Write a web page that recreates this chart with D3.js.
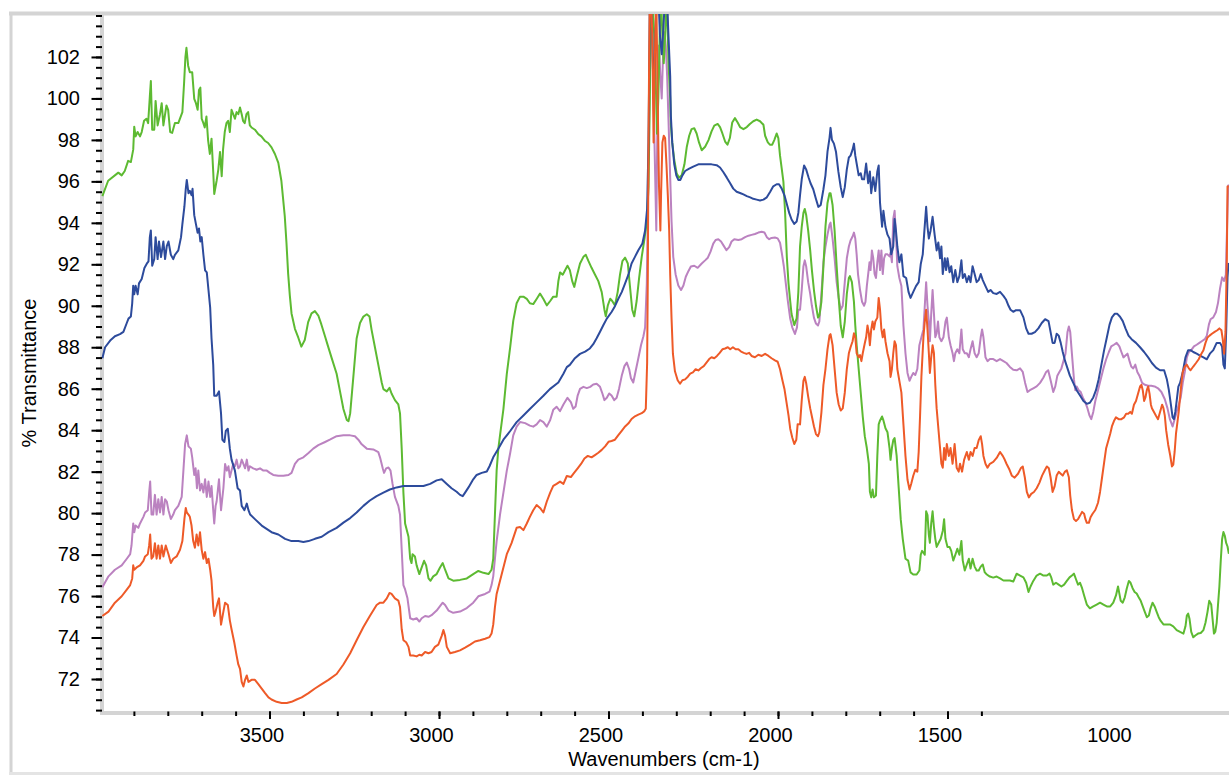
<!DOCTYPE html>
<html><head><meta charset="utf-8">
<script src="https://cdn.jsdelivr.net/npm/d3@7"></script>
<style>html,body{margin:0;padding:0;background:#fff;} svg{display:block;font-family:"Liberation Sans",Arial,Helvetica,sans-serif;}</style>
</head><body><svg id="chart" width="1229" height="775"></svg>
<script>
// ---- data: [wavenumber (cm-1), % transmittance] ----
const greenSpectrum = [[3993,95.29],[3976,96.03],[3946,96.42],[3936,96.29],[3927,96.50],[3917,96.99],[3909,96.93],[3902,97.53],[3899,98.64],[3895,98.17],[3889,98.38],[3882,98.17],[3877,98.38],[3870,98.92],[3863,99.02],[3858,98.81],[3853,100.09],[3850,100.84],[3846,98.49],[3840,98.49],[3836,99.88],[3830,98.70],[3823,99.24],[3818,99.77],[3813,98.70],[3809,99.13],[3804,99.66],[3799,99.45],[3793,98.38],[3787,98.34],[3779,98.81],[3769,98.81],[3757,99.34],[3752,100.73],[3748,102.01],[3745,102.44],[3740,101.58],[3735,101.26],[3728,101.26],[3722,99.98],[3717,99.77],[3712,99.45],[3708,100.41],[3704,100.52],[3700,99.02],[3695,98.81],[3691,98.60],[3686,99.13],[3681,97.96],[3676,97.32],[3671,98.06],[3666,96.46],[3663,95.39],[3656,96.03],[3651,96.57],[3646,97.42],[3641,96.25],[3637,97.53],[3632,98.38],[3627,98.81],[3622,98.92],[3617,98.38],[3612,99.45],[3607,99.24],[3602,99.02],[3597,99.34],[3592,99.24],[3587,99.56],[3582,99.24],[3578,98.92],[3573,98.81],[3568,99.24],[3563,99.34],[3558,98.70],[3553,98.60],[3543,98.49],[3533,98.28],[3524,98.17],[3514,97.96],[3504,97.85],[3494,97.64],[3484,97.32],[3474,96.89],[3465,96.03],[3460,95.18],[3455,94.33],[3450,93.05],[3445,91.55],[3440,90.49],[3435,89.63],[3425,88.89],[3415,88.46],[3406,88.03],[3396,88.35],[3386,89.21],[3376,89.63],[3366,89.74],[3356,89.53],[3347,89.10],[3337,88.57],[3327,88.03],[3317,87.50],
[3302,86.72],[3292,85.87],[3282,85.02],[3272,84.49],[3267,84.43],[3262,84.81],[3253,86.51],[3243,88.42],[3233,89.17],[3223,89.48],[3213,89.59],[3205,89.48],[3199,88.85],[3189,88.00],[3179,87.15],[3169,86.30],[3164,85.98],[3154,85.87],[3146,86.04],[3140,85.77],[3130,85.45],[3120,85.24],[3115,84.81],[3110,83.11],[3105,80.99],[3100,79.50],[3090,78.86],[3085,77.80],[3081,77.59],[3078,78.02],[3071,77.91],[3066,77.48],[3058,77.06],[3051,77.38],[3044,77.70],[3038,77.48],[3031,76.85],[3025,76.74],[3017,76.95],[3007,77.06],[2997,77.38],[2989,77.59],[2982,77.27],[2972,76.85],[2958,76.74],[2938,76.78],[2918,76.85],[2899,77.06],[2884,77.21],[2869,77.12],[2854,77.06],[2845,77.27],[2840,77.80],[2835,79.93],[2830,82.05],[2825,83.11],[2820,83.75],[2810,85.02],[2800,86.72],[2790,88.00],[2781,89.27],[2771,90.12],[2761,90.44],[2751,90.44],[2741,90.33],[2732,90.12],[2722,90.08],[2712,90.33],[2702,90.59],[2692,90.33],[2682,90.02],[2672,90.23],[2663,90.44],[2653,90.44],[2648,91.18],[2643,91.61],[2635,91.50],[2628,91.71],[2621,91.93],
[2614,91.72],[2607,91.19],[2601,90.91],[2594,91.40],[2584,92.04],[2574,92.36],[2567,92.46],[2559,92.15],[2550,91.83],[2540,91.51],[2530,91.19],[2520,90.66],[2512,89.81],[2508,89.49],[2502,90.02],[2495,90.34],[2489,90.23],[2481,90.02],[2473,90.66],[2466,91.51],[2459,92.15],[2451,92.32],[2443,92.04],[2437,90.98],[2430,89.81],[2424,89.49],[2417,90.23],[2410,91.30],[2402,92.36],[2394,93.21],[2387,94.06],[2382,95.76],[2378,100.00],[2375,105],[2371,105],[2365,103],[2361,101.07],[2357,98.30],[2353,100.00],[2349,103],[2345,105],[2341,103],[2337,101.70],[2333,103],[2328,105],[2323,101.70],[2318,100.00],[2316,98.73],[2312,97.88],[2306,97.03],[2299,96.39],[2292,96.18],[2284,96.29],[2276,96.82],[2269,97.67],[2262,98.20],[2255,98.52],[2247,98.56],[2240,98.31],[2233,97.88],[2225,97.50],[2215,97.67],[2205,97.99],[2196,98.41],[2188,98.69],[2178,98.77],[2171,98.62],[2164,98.31],[2156,97.92],[2149,97.77],[2142,98.09],[2135,98.84],[2127,99.05],[2119,98.84],[2112,98.62],[2102,98.52],[2092,98.62],[2083,98.77],[2073,98.90],[2063,98.98],[2053,98.90],[2043,98.73],[2038,98.20],[2030,97.88],[2024,97.77],[2017,97.77],[2011,97.99],[2004,98.31],[1999,98.09],[1994,97.24],[1989,96.61],[1984,95.97],[1979,94.48],[1974,92.36],[1969,91.08],[1964,90.23],[1960,89.60],[1952,89.07],[1945,89.39],[1940,90.66],
[1935,92.86],[1930,93.81],[1925,94.48],[1921,94.67],[1917,94.39],[1911,93.62],[1905,92.67],[1900,91.72],[1894,90.76],[1888,90.00],[1882,89.43],[1878,89.52],[1872,90.19],[1866,91.91],[1860,93.81],[1854,94.96],[1848,95.43],[1845,95.43],[1839,94.86],[1833,93.62],[1827,91.91],[1821,90.38],[1815,89.05],[1809,88.48],[1803,89.24],[1797,90.57],[1791,91.34],[1788,91.43],[1782,91.14],[1776,90.19],[1772,89.05],[1768,88.10],[1762,86.95],[1756,85.81],[1750,84.66],[1744,83.71],[1738,83.14],[1732,82.38],[1729,81.04],[1725,80.76],[1721,81.14],[1717,80.76],[1711,80.85],[1707,82.76],[1703,84.28],[1699,84.47],[1693,84.66],[1689,84.47],[1683,84.09],[1677,83.90],[1671,83.14],[1668,82.57],[1664,83.14],[1660,83.52],[1656,83.62],[1650,82.76],[1644,81.23],[1638,79.71],[1632,78.76],[1624,77.80],[1616,77.71],[1609,77.14],[1601,77.04],[1591,77.04],[1583,77.23],[1579,77.99],[1575,78.18],[1571,78.09],[1567,77.99],[1563,80.09],[1559,79.90],[1555,78.95],[1552,78.57],[1548,79.52],[1544,80.09],[1540,79.33],[1536,78.76],[1532,78.37],[1526,78.57],[1520,78.76],[1514,79.14],[1510,79.71],[1506,78.76],[1500,78.37],[1494,78.37],[1489,78.18],[1483,77.71],[1477,77.99],[1471,78.28],[1465,77.99],[1459,78.66],[1455,77.71],[1449,77.23],[1443,77.52],[1437,77.80],[1432,77.33],[1426,77.80],[1420,77.42],[1414,77.23],[1408,77.23],[1402,77.42],[1396,77.52],[1390,77.14],[1384,77.04],[1375,76.94],[1365,76.89],[1355,76.94],[1345,76.85],[1335,76.75],[1326,76.75],[1316,76.75],[1306,76.70],
[1296,77.08],[1286,76.99],[1276,76.90],[1268,76.64],[1261,76.20],[1255,76.46],[1247,76.73],[1237,76.99],[1227,77.08],[1217,76.99],[1207,76.99],[1199,77.08],[1194,76.90],[1188,76.55],[1180,76.64],[1172,76.55],[1164,76.46],[1156,76.55],[1148,76.73],[1140,76.90],[1133,76.99],[1127,77.08],[1121,76.81],[1115,76.55],[1109,76.64],[1103,76.38],[1097,76.03],[1089,75.59],[1080,75.41],[1070,75.50],[1060,75.59],[1050,75.68],[1040,75.59],[1030,75.50],[1020,75.50],[1011,75.68],[1003,76.03],[997,76.46],[993,76.12],[989,75.77],[983,75.68],[977,75.94],[971,76.38],[965,76.73],[960,76.64],[954,76.38],[948,76.20],[942,76.12],[936,75.94],[930,75.77],[924,75.50],[918,75.24],[912,74.98],[906,75.06],[901,75.41],[895,75.68],[889,75.50],[883,75.24],[877,74.98],[871,74.80],[863,74.63],[853,74.63],[844,74.63],[834,74.54],[824,74.36],[814,74.27],[804,74.19],[798,74.54],[794,75.06],[790,75.15],[786,74.89],[781,74.27],[775,74.01],[769,74.10],[761,74.19],[753,74.22],[745,74.36],[739,74.71],[733,75.24],[728,75.77],[722,75.59],[718,74.89],[714,74.19],[710,74.28],[706,74.71],[702,75.59],[698,76.46],[694,77.69],[690,78.74],[686,79.09],[682,78.91],[678,78.56],[674,78.39],[670,78.04]];

const blueSpectrum = [[3993,87.47],[3985,88.00],[3970,88.32],[3956,88.53],[3941,88.63],[3931,88.74],[3921,89.17],[3916,89.38],[3909,89.48],[3905,90.12],[3902,90.97],[3899,90.55],[3895,90.97],[3889,90.55],[3885,91.08],[3877,91.29],[3869,91.82],[3862,92.03],[3857,92.14],[3853,93.31],[3850,93.63],[3846,91.93],[3840,92.25],[3836,93.31],[3830,92.25],[3826,93.10],[3820,92.35],[3813,93.10],[3808,92.25],[3803,92.88],[3798,93.10],[3791,92.46],[3784,92.25],[3779,92.46],[3769,92.67],[3761,93.31],[3757,93.94],[3751,94.79],[3747,95.64],[3744,96.07],[3739,95.43],[3735,95.54],[3730,95.33],[3727,95.64],[3722,94.37],[3717,93.94],[3712,93.52],[3708,93.73],[3704,93.10],[3700,93.31],[3695,92.46],[3690,91.71],[3685,91.61],[3680,90.76],[3675,89.91],[3671,88.42],[3666,87.15],[3663,85.66],[3656,85.66],[3649,85.87],[3643,84.81],[3639,83.54],[3633,83.43],[3629,83.96],[3623,84.07],[3617,83.11],[3612,82.58],[3602,82.05],[3594,81.20],[3587,81.09],[3582,80.35],[3574,80.14],[3567,80.46],[3562,80.14],[3557,79.93],[3543,79.71],[3523,79.40],[3513,79.29],[3494,79.08],[3474,78.97],[3454,78.76],[3435,78.65],[3415,78.65],[3400,78.61],[3385,78.65],[3366,78.76],[3346,78.86],[3326,79.08],
[3302,79.29],[3282,79.54],[3262,79.76],[3243,80.03],[3223,80.35],[3204,80.61],[3184,80.82],[3164,80.99],[3145,81.14],[3125,81.24],[3105,81.31],[3085,81.31],[3066,81.31],[3046,81.31],[3026,81.41],[3007,81.58],[2992,81.63],[2977,81.41],[2963,81.20],[2948,81.03],[2938,80.88],[2930,80.82],[2923,80.99],[2913,81.24],[2899,81.63],[2889,81.84],[2874,81.94],[2859,82.01],[2851,82.26],[2840,82.69],[2825,83.11],[2810,83.54],[2790,83.96],[2771,84.39],[2751,84.71],[2732,85.02],[2712,85.34],[2692,85.66],[2673,85.98],[2648,86.30],[2633,86.72],[2623,87.04],
[2614,87.15],[2599,87.47],[2584,87.68],[2569,87.79],[2555,87.94],[2545,88.15],[2535,88.43],[2525,88.75],[2515,89.07],[2505,89.38],[2491,89.70],[2481,89.98],[2471,90.34],[2461,90.66],[2451,91.08],[2441,91.51],[2432,92.04],[2422,92.36],[2412,92.68],[2400,93.00],[2392,93.63],[2386,94.69],[2382,97.88],[2380,101.07],[2378,105],[2375,105],[2371,103.19],[2367,100.00],[2363,102.13],[2358,105],[2353,105],[2348,102.98],[2343,102.13],[2338,103.40],[2333,105],[2328,105],[2323,102.98],[2318,101.07],[2316,99.15],[2312,97.88],[2306,96.82],[2300,96.29],[2294,96.07],[2288,96.07],[2282,96.29],[2274,96.50],[2262,96.61],[2250,96.71],[2235,96.82],[2215,96.82],[2196,96.82],[2181,96.78],[2171,96.67],[2161,96.44],[2151,96.18],[2142,95.93],[2132,95.65],[2122,95.50],[2112,95.44],[2102,95.37],[2092,95.29],[2082,95.23],[2073,95.16],[2063,95.12],[2053,95.08],[2043,95.12],[2033,95.23],[2023,95.50],[2014,95.76],[2004,95.86],[1997,95.86],[1989,95.65],[1981,95.33],[1974,94.91],[1967,94.48],[1960,94.16],[1952,93.95],[1945,94.06],[1940,94.48],
[1935,95.34],[1930,96.10],[1923,96.77],[1917,96.58],[1910,96.20],[1904,95.91],[1896,95.62],[1888,95.15],[1881,94.77],[1874,94.86],[1866,95.62],[1860,96.29],[1854,97.43],[1848,98.10],[1845,98.58],[1841,98.01],[1835,97.82],[1829,97.43],[1822,96.48],[1815,95.72],[1809,95.24],[1803,95.72],[1797,96.58],[1791,97.15],[1786,97.24],[1780,97.53],[1776,97.82],[1772,97.24],[1768,96.86],[1762,96.29],[1756,96.39],[1752,96.10],[1746,96.10],[1740,96.86],[1734,95.91],[1729,96.48],[1725,95.43],[1719,96.20],[1713,95.53],[1707,96.48],[1703,96.77],[1699,94.96],[1693,93.81],[1689,94.58],[1683,93.81],[1677,93.43],[1671,93.24],[1666,92.48],[1660,92.86],[1656,94.19],[1652,93.62],[1648,92.86],[1642,92.10],[1636,92.48],[1630,91.43],[1622,91.34],[1615,90.67],[1609,90.38],[1601,90.67],[1593,90.95],[1585,91.14],[1579,92.00],[1573,92.48],[1569,93.43],[1563,94.77],[1559,93.81],[1555,93.24],[1550,93.62],[1544,94.29],[1538,93.43],[1532,92.67],[1527,93.05],[1522,92.29],[1518,92.86],[1514,91.53],[1508,92.29],[1504,91.72],[1500,92.29],[1494,91.62],[1489,91.91],[1483,91.14],[1477,91.72],[1471,91.14],[1465,91.43],[1459,92.19],[1455,91.34],[1449,91.53],[1443,91.14],[1437,91.43],[1432,91.14],[1426,91.91],[1420,91.53],[1414,91.14],[1408,91.24],[1402,91.53],[1396,91.24],[1388,90.95],[1380,90.67],[1373,90.76],[1365,90.61],[1355,90.57],[1345,90.67],[1335,90.48],[1327,90.29],[1320,90.00],[1314,89.81],[1306,89.71],
[1298,89.79],[1286,89.79],[1276,89.44],[1268,88.91],[1261,88.65],[1252,88.65],[1242,88.73],[1232,88.91],[1222,89.17],[1212,89.35],[1202,89.26],[1196,88.74],[1190,88.21],[1184,88.21],[1178,88.65],[1172,88.56],[1166,88.21],[1160,87.77],[1153,87.33],[1146,86.98],[1139,86.63],[1129,86.28],[1119,85.93],[1109,85.67],[1099,85.41],[1089,85.27],[1080,85.32],[1070,85.58],[1062,85.93],[1054,86.46],[1046,87.16],[1038,87.86],[1030,88.47],[1022,89.09],[1015,89.44],[1007,89.61],[999,89.61],[991,89.47],[983,89.26],[975,88.91],[966,88.56],[957,88.39],[944,88.21],[932,88.00],[920,87.77],[908,87.51],[897,87.24],[885,87.02],[873,86.89],[861,86.89],[853,86.46],[847,85.93],[841,85.23],[836,84.62],[832,84.53],[828,84.88],[824,85.41],[819,86.10],[814,86.28],[806,86.81],[798,87.51],[790,87.86],[783,87.86],[775,87.77],[765,87.69],[755,87.60],[745,87.51],[735,87.42],[726,87.69],[716,87.86],[706,88.21],[696,88.21],[690,88.03],[686,87.16],[682,86.98],[678,88.74],[674,91.37],[671,92.07]];

const purpleSpectrum = [[3993,76.42],[3975,76.95],[3956,77.27],[3936,77.48],[3921,77.80],[3911,78.02],[3907,78.44],[3902,79.50],[3899,79.08],[3895,79.40],[3887,79.29],[3882,79.50],[3872,79.82],[3867,80.03],[3859,80.14],[3855,80.99],[3852,81.52],[3848,79.93],[3843,79.93],[3838,80.88],[3833,79.93],[3828,80.67],[3823,80.03],[3818,80.78],[3813,79.93],[3808,80.67],[3803,80.56],[3798,80.14],[3791,79.72],[3784,79.93],[3779,80.14],[3769,80.35],[3759,80.78],[3754,82.05],[3749,83.32],[3744,83.75],[3739,83.22],[3732,83.11],[3728,82.69],[3722,81.84],[3718,82.16],[3714,81.20],[3710,82.05],[3705,81.09],[3700,81.41],[3695,80.99],[3690,81.63],[3685,80.78],[3680,81.52],[3675,80.78],[3671,81.31],[3666,80.14],[3663,79.50],[3659,80.35],[3656,80.56],[3649,81.63],[3643,80.14],[3636,81.20],[3631,82.37],[3626,82.05],[3621,82.26],[3617,81.73],[3612,82.05],[3607,82.37],[3602,82.26],[3597,82.58],[3592,82.16],[3587,82.26],[3582,82.58],[3577,82.37],[3572,82.16],[3567,82.58],[3562,82.05],[3558,82.26],[3548,82.16],[3538,82.09],[3528,82.16],[3518,82.05],[3508,82.05],[3499,81.94],[3489,81.84],[3474,81.80],[3459,81.80],[3444,81.84],[3435,81.94],[3425,82.37],[3415,82.58],[3400,82.69],[3385,82.90],[3371,83.11],[3356,83.28],[3336,83.43],[3322,83.54],
[3302,83.71],[3282,83.75],[3262,83.75],[3248,83.71],[3238,83.54],[3228,83.32],[3213,83.11],[3194,83.07],[3179,82.94],[3174,82.69],[3166,82.16],[3162,81.94],[3156,82.16],[3149,82.20],[3143,82.05],[3137,81.41],[3130,80.78],[3120,80.35],[3115,79.93],[3110,78.23],[3105,76.53],[3100,76.32],[3093,75.89],[3085,74.93],[3076,74.87],[3066,74.93],[3058,74.77],[3051,74.93],[3041,75.04],[3031,75.00],[3022,75.08],[3007,75.30],[2997,75.51],[2989,75.68],[2982,75.57],[2972,75.30],[2958,75.19],[2938,75.25],[2918,75.42],[2899,75.68],[2884,75.99],[2864,76.10],[2851,76.21],[2845,76.53],[2840,76.95],[2835,77.80],[2830,78.65],[2820,79.93],[2810,80.99],[2800,82.05],[2790,82.90],[2781,83.75],[2771,84.17],[2761,84.39],[2746,84.34],[2732,84.22],[2722,84.17],[2712,84.28],[2702,84.49],[2692,84.39],[2682,84.17],[2672,84.49],[2663,84.98],[2653,85.13],[2643,84.92],[2633,85.24],[2621,85.56],
[2611,85.35],[2604,85.03],[2597,85.14],[2591,85.67],[2584,85.99],[2574,86.09],[2564,86.03],[2554,86.09],[2545,86.20],[2535,86.24],[2525,86.09],[2518,85.77],[2512,85.45],[2505,85.56],[2498,85.77],[2491,85.67],[2483,85.45],[2476,85.56],[2469,85.99],[2461,86.62],[2453,87.09],[2446,87.26],[2439,86.94],[2434,86.52],[2427,86.30],[2420,86.84],[2412,87.47],[2404,88.11],[2397,88.53],[2392,88.96],[2387,91.08],[2382,96.82],[2378,102.13],[2375,103.61],[2371,102.98],[2367,100.00],[2363,96.82],[2359,93.63],[2355,100.00],[2351,102.55],[2347,101.07],[2343,100.00],[2339,102.13],[2335,103.19],[2331,102.55],[2327,101.07],[2323,98.94],[2318,96.18],[2314,94.06],[2309,92.36],[2302,91.51],[2294,90.98],[2286,90.76],[2279,90.98],[2272,91.40],[2264,91.68],[2257,91.89],[2247,91.93],[2237,91.83],[2225,92.04],[2215,92.19],[2207,92.32],[2199,92.61],[2191,93.00],[2184,93.17],[2176,93.21],[2168,93.10],[2160,92.89],[2152,92.68],[2144,92.83],[2137,93.10],[2129,93.21],[2117,93.17],[2107,93.21],[2097,93.31],[2087,93.38],[2078,93.42],[2068,93.46],[2058,93.53],[2048,93.57],[2040,93.53],[2033,93.31],[2026,93.21],[2019,93.27],[2009,93.29],[2001,93.25],[1994,93.04],[1989,92.57],[1983,91.93],[1977,91.08],[1971,90.23],[1964,89.38],[1958,88.96],[1950,88.64],[1944,88.96],[1940,89.81],
[1935,89.81],[1930,90.76],[1925,91.91],[1921,92.19],[1917,91.91],[1911,91.14],[1905,90.57],[1900,90.00],[1894,89.43],[1888,89.14],[1882,89.05],[1878,89.24],[1872,90.57],[1866,92.10],[1860,92.86],[1854,93.43],[1848,93.91],[1845,94.01],[1839,93.24],[1833,92.29],[1827,91.14],[1821,90.38],[1815,89.81],[1809,90.00],[1803,91.14],[1797,92.29],[1791,92.86],[1786,93.15],[1780,93.34],[1776,93.53],[1772,93.24],[1768,92.48],[1764,91.53],[1758,90.76],[1752,90.19],[1746,90.00],[1742,90.19],[1738,90.95],[1734,91.53],[1730,92.10],[1727,91.72],[1723,92.67],[1719,92.29],[1715,91.53],[1711,91.34],[1707,92.10],[1703,92.67],[1699,91.72],[1695,92.67],[1691,91.53],[1687,92.29],[1683,92.48],[1677,92.48],[1671,92.38],[1668,92.57],[1664,92.10],[1660,94.19],[1656,94.58],[1652,93.43],[1648,91.91],[1642,91.34],[1636,90.95],[1630,89.05],[1624,87.71],[1618,86.76],[1612,86.38],[1607,86.57],[1601,86.76],[1595,86.66],[1589,86.95],[1583,88.10],[1577,88.48],[1571,88.86],[1567,90.00],[1563,91.14],[1559,90.00],[1555,89.24],[1552,88.29],[1548,89.62],[1544,90.76],[1540,89.62],[1536,88.48],[1532,88.67],[1528,89.24],[1524,88.48],[1518,88.29],[1512,88.48],[1506,89.24],[1502,89.43],[1496,88.48],[1491,88.10],[1485,87.71],[1481,87.33],[1477,87.71],[1471,87.90],[1465,87.71],[1459,88.86],[1455,87.90],[1449,87.71],[1443,87.71],[1437,87.52],[1432,87.90],[1426,88.29],[1420,87.71],[1414,87.52],[1408,87.71],[1402,88.48],[1398,88.86],[1394,88.48],[1388,87.52],[1382,87.33],[1375,87.43],[1365,87.43],[1355,87.33],[1345,87.43],[1335,87.33],[1326,87.24],[1316,87.05],[1306,86.91],
[1296,86.89],[1286,86.98],[1278,86.81],[1271,86.28],[1264,85.84],[1257,85.93],[1247,86.02],[1237,86.11],[1227,86.28],[1217,86.54],[1209,86.81],[1203,86.89],[1199,86.63],[1194,86.28],[1188,85.84],[1182,86.11],[1176,86.63],[1170,86.81],[1164,86.98],[1158,87.33],[1152,87.69],[1146,88.74],[1142,89.00],[1138,88.74],[1133,87.69],[1127,86.46],[1123,85.93],[1119,86.11],[1113,85.93],[1107,85.84],[1101,85.58],[1093,85.32],[1087,85.05],[1081,84.70],[1076,84.53],[1070,84.88],[1064,85.41],[1056,85.93],[1048,86.46],[1040,86.98],[1032,87.42],[1024,87.77],[1017,88.04],[1009,88.12],[1001,88.21],[993,88.04],[987,87.77],[981,87.51],[975,87.60],[969,87.69],[963,87.33],[958,87.07],[952,86.98],[946,87.16],[940,86.81],[934,86.63],[926,86.28],[918,86.19],[908,86.14],[899,86.14],[889,86.11],[879,86.02],[869,85.84],[859,85.49],[851,85.05],[844,84.53],[836,84.18],[830,84.53],[824,84.88],[818,85.23],[812,85.58],[806,86.28],[800,86.81],[794,87.51],[788,87.77],[781,87.86],[773,88.04],[765,88.12],[757,88.21],[749,88.30],[741,88.39],[735,88.56],[729,89.09],[724,89.35],[716,89.44],[708,89.70],[702,90.14],[696,90.84],[690,91.37],[684,91.20],[679,91.50],[675,94.00],[672,95.80],[668,95.80]];

const orangeSpectrum = [[3993,75.04],[3975,75.25],[3956,75.68],[3936,75.99],[3921,76.31],[3911,76.53],[3905,76.85],[3902,77.48],[3899,77.27],[3892,77.38],[3882,77.48],[3872,77.70],[3867,77.91],[3859,78.02],[3855,78.44],[3852,78.97],[3848,77.80],[3843,77.91],[3838,78.55],[3833,77.80],[3828,78.44],[3823,77.80],[3818,78.44],[3813,77.91],[3806,78.44],[3798,78.02],[3791,77.59],[3784,77.80],[3774,77.91],[3764,78.23],[3757,78.65],[3751,79.72],[3747,80.25],[3744,80.03],[3739,79.93],[3735,79.82],[3730,79.40],[3725,78.65],[3720,78.33],[3715,78.97],[3710,78.44],[3705,79.08],[3700,78.23],[3695,77.80],[3690,78.12],[3685,77.59],[3680,77.80],[3675,77.27],[3671,76.74],[3666,75.47],[3663,75.04],[3659,75.25],[3653,75.68],[3649,75.89],[3643,74.62],[3636,75.25],[3631,75.68],[3623,75.57],[3617,74.83],[3612,74.40],[3604,73.77],[3597,73.13],[3592,72.70],[3587,72.49],[3582,71.86],[3577,71.64],[3572,71.96],[3567,72.17],[3562,71.86],[3553,71.96],[3543,71.96],[3533,71.75],[3523,71.54],[3513,71.32],[3503,71.11],[3494,71.01],[3479,70.90],[3464,70.84],[3449,70.84],[3435,70.90],[3420,71.01],[3405,71.11],[3385,71.32],[3366,71.54],[3346,71.75],[3326,71.96],
[3302,72.24],[3282,72.70],[3262,73.24],[3243,73.87],[3223,74.51],[3204,75.04],[3184,75.57],[3174,75.68],[3164,75.68],[3154,75.89],[3146,76.15],[3140,76.10],[3130,75.89],[3120,75.78],[3115,75.47],[3110,74.40],[3105,73.87],[3097,73.77],[3090,73.55],[3085,73.13],[3076,73.13],[3066,73.09],[3058,73.17],[3051,73.13],[3041,73.30],[3031,73.24],[3022,73.30],[3012,73.55],[3002,73.66],[2992,74.08],[2987,74.36],[2982,74.08],[2977,73.55],[2967,73.24],[2953,73.30],[2938,73.38],[2923,73.51],[2908,73.66],[2894,73.81],[2879,73.87],[2864,73.94],[2851,74.02],[2845,74.19],[2840,74.62],[2835,75.47],[2830,76.10],[2820,76.74],[2810,77.38],[2800,78.02],[2786,78.55],[2771,79.29],[2761,79.33],[2751,79.18],[2741,79.50],[2732,79.82],[2722,80.14],[2712,80.39],[2702,80.25],[2692,80.03],[2682,80.56],[2672,80.99],[2663,81.31],[2653,81.41],[2643,81.52],[2633,81.41],[2623,81.79],
[2611,81.74],[2601,81.95],[2591,82.16],[2581,82.37],[2571,82.63],[2561,82.76],[2550,82.69],[2540,82.80],[2530,82.91],[2520,83.05],[2510,83.22],[2500,83.44],[2491,83.48],[2481,83.54],[2471,83.76],[2461,83.97],[2451,84.18],[2441,84.33],[2432,84.54],[2422,84.67],[2412,84.75],[2402,84.82],[2394,84.92],[2390,85.03],[2386,87.26],[2384,91.51],[2382,97.88],[2380,102.13],[2378,105],[2375,105],[2371,103.19],[2367,97.88],[2363,102.13],[2359,105],[2355,100.00],[2351,95.76],[2347,93.63],[2345,95.33],[2341,97.88],[2337,98.20],[2333,98.09],[2329,96.82],[2325,95.33],[2321,93.63],[2318,91.51],[2314,89.38],[2310,87.69],[2304,86.84],[2296,86.41],[2289,86.24],[2282,86.41],[2274,86.45],[2266,86.58],[2259,86.73],[2251,86.79],[2243,86.94],[2235,86.88],[2227,87.00],[2219,87.09],[2211,87.26],[2203,87.43],[2196,87.52],[2188,87.47],[2180,87.58],[2172,87.73],[2164,87.90],[2156,87.94],[2148,88.00],[2141,87.90],[2133,88.00],[2125,87.90],[2117,87.90],[2109,87.79],[2101,87.73],[2093,87.68],[2085,87.73],[2078,87.58],[2068,87.52],[2058,87.64],[2048,87.58],[2038,87.68],[2028,87.58],[2019,87.47],[2009,87.37],[2001,87.30],[1994,86.94],[1987,86.41],[1981,85.99],[1975,85.35],[1969,84.71],[1964,84.07],[1958,83.65],[1952,83.33],[1946,83.54],[1942,84.29],
[1935,84.28],[1930,85.43],[1925,86.38],[1921,86.57],[1917,86.28],[1911,85.62],[1905,85.05],[1900,84.66],[1894,84.19],[1888,83.81],[1882,83.71],[1878,83.90],[1872,84.85],[1866,86.19],[1860,86.95],[1854,87.90],[1848,88.57],[1845,88.63],[1839,88.10],[1833,86.95],[1827,85.81],[1821,85.24],[1815,84.95],[1809,85.05],[1803,85.81],[1797,86.95],[1791,87.71],[1786,88.00],[1780,88.29],[1776,88.67],[1772,88.48],[1768,87.71],[1762,87.52],[1758,87.62],[1754,87.33],[1750,87.71],[1744,88.19],[1740,88.48],[1736,89.05],[1732,88.67],[1729,88.10],[1725,88.86],[1721,89.24],[1717,88.86],[1713,89.24],[1707,89.43],[1703,90.38],[1699,89.81],[1695,88.86],[1691,88.48],[1687,88.86],[1683,88.29],[1677,87.71],[1671,87.33],[1668,86.57],[1664,86.95],[1660,87.71],[1656,88.29],[1652,88.10],[1648,86.95],[1642,86.38],[1636,85.81],[1630,84.28],[1624,82.76],[1618,81.61],[1612,81.14],[1607,81.42],[1601,81.80],[1595,82.09],[1589,82.00],[1585,82.95],[1581,84.66],[1577,86.57],[1571,88.48],[1567,89.24],[1563,89.81],[1559,88.86],[1555,87.71],[1552,86.76],[1548,87.52],[1544,88.10],[1540,87.71],[1536,86.19],[1532,85.05],[1526,83.90],[1522,83.14],[1518,82.38],[1514,82.19],[1510,83.14],[1506,82.57],[1502,83.33],[1496,82.76],[1491,83.14],[1485,82.38],[1479,83.33],[1473,82.19],[1467,82.00],[1463,82.38],[1457,82.00],[1451,82.57],[1447,82.76],[1443,82.95],[1437,82.57],[1432,82.95],[1426,82.76],[1420,83.14],[1414,83.14],[1408,83.52],[1402,83.71],[1398,83.33],[1394,82.76],[1388,82.38],[1382,82.19],[1375,82.38],[1365,82.47],[1355,82.66],[1345,82.95],[1337,82.76],[1331,82.57],[1326,82.38],[1317,82.09],[1310,81.80],[1302,81.71],
[1292,81.90],[1284,82.16],[1278,82.25],[1272,81.73],[1266,81.02],[1260,80.76],[1253,80.93],[1245,81.02],[1237,81.20],[1229,81.46],[1221,81.81],[1213,82.07],[1207,82.25],[1201,82.16],[1196,81.73],[1190,81.02],[1184,81.29],[1178,81.81],[1172,81.99],[1166,81.90],[1160,81.81],[1154,81.99],[1148,82.07],[1142,81.73],[1138,80.85],[1133,80.15],[1127,79.71],[1121,79.62],[1115,79.71],[1109,79.88],[1103,80.06],[1097,79.97],[1093,79.71],[1089,79.53],[1083,79.53],[1078,79.80],[1072,79.97],[1064,80.15],[1056,80.50],[1050,81.02],[1044,81.73],[1038,82.43],[1032,83.13],[1026,83.48],[1020,83.83],[1015,84.18],[1009,84.44],[1003,84.62],[995,84.53],[987,84.53],[979,84.62],[973,84.79],[967,84.79],[961,84.88],[956,84.79],[950,85.23],[944,85.41],[938,85.76],[932,86.11],[928,86.19],[924,85.93],[920,85.41],[916,85.58],[912,85.93],[908,86.11],[904,85.76],[900,85.23],[897,85.06],[891,84.88],[885,84.70],[879,84.53],[873,84.88],[867,85.23],[863,85.06],[859,84.70],[855,84.00],[849,83.30],[843,82.78],[838,82.25],[834,82.34],[830,82.95],[826,83.83],[822,84.35],[818,84.88],[814,85.58],[810,86.28],[806,86.81],[800,87.07],[794,87.16],[788,86.98],[783,86.89],[775,87.07],[767,87.24],[759,87.42],[751,87.69],[745,87.86],[739,88.21],[733,88.47],[727,88.56],[720,88.65],[712,88.74],[704,88.82],[698,88.91],[692,88.82],[688,88.38],[684,87.69],[680,88.74],[676,92.24],[674,95.75],[670,95.75]];

const seriesColors = {purple:"#bb82c0", green:"#5dba32", blue:"#2d4b9c", orange:"#ee5a28"};
const yTickLabels = [72,74,76,78,80,82,84,86,88,90,92,94,96,98,100,102];
const xTickLabels = [3500,3000,2500,2000,1500,1000];
const yTitle = "% Transmittance";
const xTitle = "Wavenumbers (cm-1)";

// ---- layout ----
const svg = d3.select("#chart");
const L = 100, T = 13, R = 1229, B = 713;
const x = d3.scaleLinear().domain([4000, 650]).range([L, L + 3350 * 0.339]);
const y = d3.scaleLinear().domain([70.36, 104.12]).range([B, T]);
const gray = "#d4d4d4";

// outer frame
svg.append("line").attr("x1",9).attr("x2",R).attr("y1",13.5).attr("y2",13.5).attr("stroke",gray).attr("stroke-width",4);
svg.append("line").attr("x1",11).attr("x2",11).attr("y1",12).attr("y2",775).attr("stroke",gray).attr("stroke-width",3);
svg.append("line").attr("x1",9).attr("x2",R).attr("y1",773.5).attr("y2",773.5).attr("stroke","#e4e4e4").attr("stroke-width",3);
// axis base lines
svg.append("line").attr("x1",102).attr("x2",102).attr("y1",12).attr("y2",715).attr("stroke",gray).attr("stroke-width",4);
svg.append("line").attr("x1",100).attr("x2",R).attr("y1",713).attr("y2",713).attr("stroke",gray).attr("stroke-width",4);

// spectra
svg.append("clipPath").attr("id","plotclip").append("rect").attr("x",L).attr("y",T+1).attr("width",R-L).attr("height",B-T-1);
const line = d3.line().x(d => x(d[0])).y(d => y(d[1]));
const gLines = svg.append("g").attr("clip-path","url(#plotclip)");
[["purple",purpleSpectrum],["green",greenSpectrum],["blue",blueSpectrum],["orange",orangeSpectrum]].forEach(([k,data]) => {
  gLines.append("path").datum(data).attr("d",line).attr("fill","none")
    .attr("stroke",seriesColors[k]).attr("stroke-width",2).attr("stroke-linejoin","round");
});

// y axis
const yMinor = d3.range(70.5, 104.01, 0.5);
const yMinorAxis = svg.append("g").attr("transform","translate(102,0)")
  .call(d3.axisLeft(y).tickValues(yMinor).tickSize(6).tickFormat(""));
const yAxis = svg.append("g").attr("transform","translate(102,0)")
  .call(d3.axisLeft(y).tickValues(yTickLabels).tickSize(10.5).tickPadding(11.5).tickFormat(d3.format("d")));
[yMinorAxis,yAxis].forEach(g => { g.select(".domain").remove(); g.selectAll("line").attr("stroke","#000").attr("stroke-width",2); });
yAxis.selectAll("text").attr("font-size",20).attr("font-family","'Liberation Sans',Arial,sans-serif").attr("fill","#000");

// x axis
const xMinor = d3.range(3900, 1399, -100);
const xMinorAxis = svg.append("g").attr("transform","translate(0,711.5)")
  .call(d3.axisBottom(x).tickValues(xMinor).tickSize(4.5).tickFormat(""));
const xAxis = svg.append("g").attr("transform","translate(0,711.5)")
  .call(d3.axisBottom(x).tickValues(xTickLabels).tickSize(7.5).tickPadding(9).tickFormat(d3.format("d")));
[xMinorAxis,xAxis].forEach(g => { g.select(".domain").remove(); g.selectAll("line").attr("stroke","#000").attr("stroke-width",2); });
xAxis.selectAll(".tick").filter(d => d < 1400).select("line").remove();
xAxis.selectAll("text").attr("font-size",20).attr("font-family","'Liberation Sans',Arial,sans-serif").attr("fill","#000").attr("dx",-8);

// titles
svg.append("text").attr("x",664).attr("y",766).attr("text-anchor","middle").attr("font-size",20).attr("fill","#000").text(xTitle);
svg.append("text").attr("transform","translate(36,373) rotate(-90)").attr("text-anchor","middle").attr("font-size",20).attr("fill","#000").text(yTitle);
</script></body></html>
